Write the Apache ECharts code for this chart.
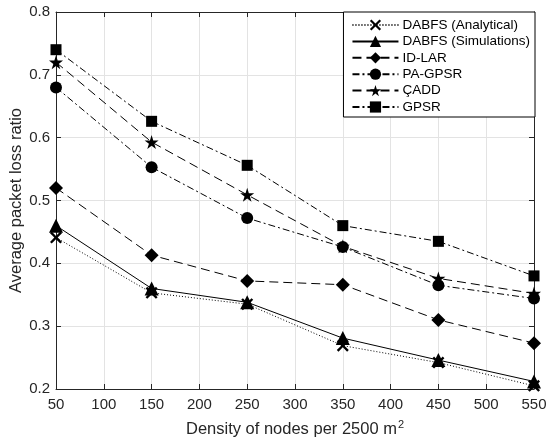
<!DOCTYPE html>
<html>
<head>
  <meta charset="utf-8">
</head>
<body style="height: 100%; margin: 0">
  <div id="container" style="width: 546px; height: 441px"></div>
  <script src="https://cdn.jsdelivr.net/npm/echarts@6/dist/echarts.min.js"></script>
  <script type="text/javascript">
    var dom = document.getElementById('container');
    var myChart = echarts.init(dom, null, { renderer: 'canvas' });

    // node density (x)
    const densities = [50, 150, 250, 350, 450, 550];
    // average packet loss ratio per protocol
    const dabfsAnalytical = [0.441, 0.353, 0.335, 0.269, 0.242, 0.205];
    const dabfsSim = [0.460, 0.360, 0.338, 0.281, 0.246, 0.212];
    const idLar = [0.520, 0.413, 0.372, 0.366, 0.310, 0.273];
    const paGpsr = [0.680, 0.553, 0.472, 0.426, 0.365, 0.344];
    const cadd = [0.720, 0.593, 0.509, 0.427, 0.376, 0.352];
    const gpsr = [0.740, 0.626, 0.556, 0.460, 0.435, 0.380];

    const xSym = 'path://M0,1.4L1.4,0L5,3.6L8.6,0L10,1.4L6.4,5L10,8.6L8.6,10L5,6.4L1.4,10L0,8.6L3.6,5Z';
    const starSym = 'path://M50,0L61.2,34.5L97.6,34.5L68.2,55.9L79.4,90.5L50,69.1L20.6,90.5L31.8,55.9L2.4,34.5L38.8,34.5Z';

    const font = 'Liberation Sans, Arial, Helvetica, sans-serif';
    const txt = '#262626';

    function pairs(vals) {
      return densities.map(function (d, i) { return [d, vals[i]]; });
    }

    function mk(name, vals, type, symbol, size) {
      return {
        name: name,
        type: 'line',
        data: pairs(vals),
        symbol: symbol,
        symbolSize: size,
        showAllSymbol: true,
        color: '#000',
        lineStyle: { color: '#000', width: 1, type: type },
        itemStyle: { color: '#000' },
        z: 3
      };
    }

    const dashDot = [7, 3, 2, 3];
    const dash = [9, 5];

    const option = {
      animation: false,
      backgroundColor: '#fff',
      textStyle: { fontFamily: font },
      grid: { left: 56, right: 12, top: 12, bottom: 52, outerBoundsMode: 'none', containLabel: false },
      legend: {
        orient: 'vertical',
        right: 11,
        top: 12,
        backgroundColor: '#fff',
        borderColor: '#000',
        borderWidth: 1,
        borderRadius: 0,
        padding: [6, 5, 3, 8],
        itemGap: 2.4,
        itemWidth: 46,
        itemHeight: 14,
        textStyle: { fontFamily: font, fontSize: 13.5, color: '#000', padding: [0, 0, 0, -1] },
        data: ['DABFS (Analytical)', 'DABFS (Simulations)', 'ID-LAR', 'PA-GPSR', 'ÇADD', 'GPSR']
      },
      xAxis: [{
        type: 'value',
        min: 50, max: 550, interval: 50,
        name: '{a|Density of nodes per 2500 m}{s|2}',
        nameLocation: 'middle',
        nameGap: 30,
        nameMoveOverlap: false,
        nameTextStyle: {
          fontFamily: font, fontSize: 16.5, color: txt,
          rich: {
            a: { fontFamily: font, fontSize: 16.5, color: txt },
            s: { fontFamily: font, fontSize: 11, color: txt, verticalAlign: 'top', padding: [0, 0, 9, 1] }
          }
        },
        axisLine: { lineStyle: { color: txt, width: 1 } },
        axisTick: { inside: true, length: 5, lineStyle: { color: txt } },
        axisLabel: { fontFamily: font, fontSize: 15, color: txt, margin: 8 },
        splitLine: { show: true, lineStyle: { color: '#e3e3e3', width: 1 } }
      }, {
        type: 'value', position: 'top',
        min: 50, max: 550, interval: 50,
        axisLine: { show: true, lineStyle: { color: txt, width: 1 } },
        axisTick: { show: true, inside: true, length: 5, lineStyle: { color: txt } },
        axisLabel: { show: false },
        splitLine: { show: false }
      }],
      yAxis: [{
        type: 'value',
        min: 0.2, max: 0.8, interval: 0.1,
        name: 'Average packet loss ratio',
        nameLocation: 'middle',
        nameGap: 31,
        nameMoveOverlap: false,
        nameTextStyle: { fontFamily: font, fontSize: 16.5, color: txt },
        axisLine: { show: true, lineStyle: { color: txt, width: 1 } },
        axisTick: { show: true, inside: true, length: 5, lineStyle: { color: txt } },
        axisLabel: { fontFamily: font, fontSize: 15, color: txt, margin: 6,
          formatter: function (v) { return v.toFixed(1); } },
        splitLine: { show: true, lineStyle: { color: '#e3e3e3', width: 1 } }
      }, {
        type: 'value', position: 'right',
        min: 0.2, max: 0.8, interval: 0.1,
        axisLine: { show: true, lineStyle: { color: txt, width: 1 } },
        axisTick: { show: true, inside: true, length: 5, lineStyle: { color: txt } },
        axisLabel: { show: false },
        splitLine: { show: false }
      }],
      series: [
        mk('DABFS (Analytical)', dabfsAnalytical, [1, 2], xSym, 12),
        mk('DABFS (Simulations)', dabfsSim, 'solid', 'triangle', 14),
        mk('ID-LAR', idLar, dash, 'diamond', 14),
        mk('PA-GPSR', paGpsr, dashDot, 'circle', 12),
        mk('ÇADD', cadd, dash, starSym, 14),
        mk('GPSR', gpsr, dashDot, 'rect', 11)
      ]
    };

    myChart.setOption(option);
    window.addEventListener('resize', myChart.resize);
  </script>
</body>
</html>
